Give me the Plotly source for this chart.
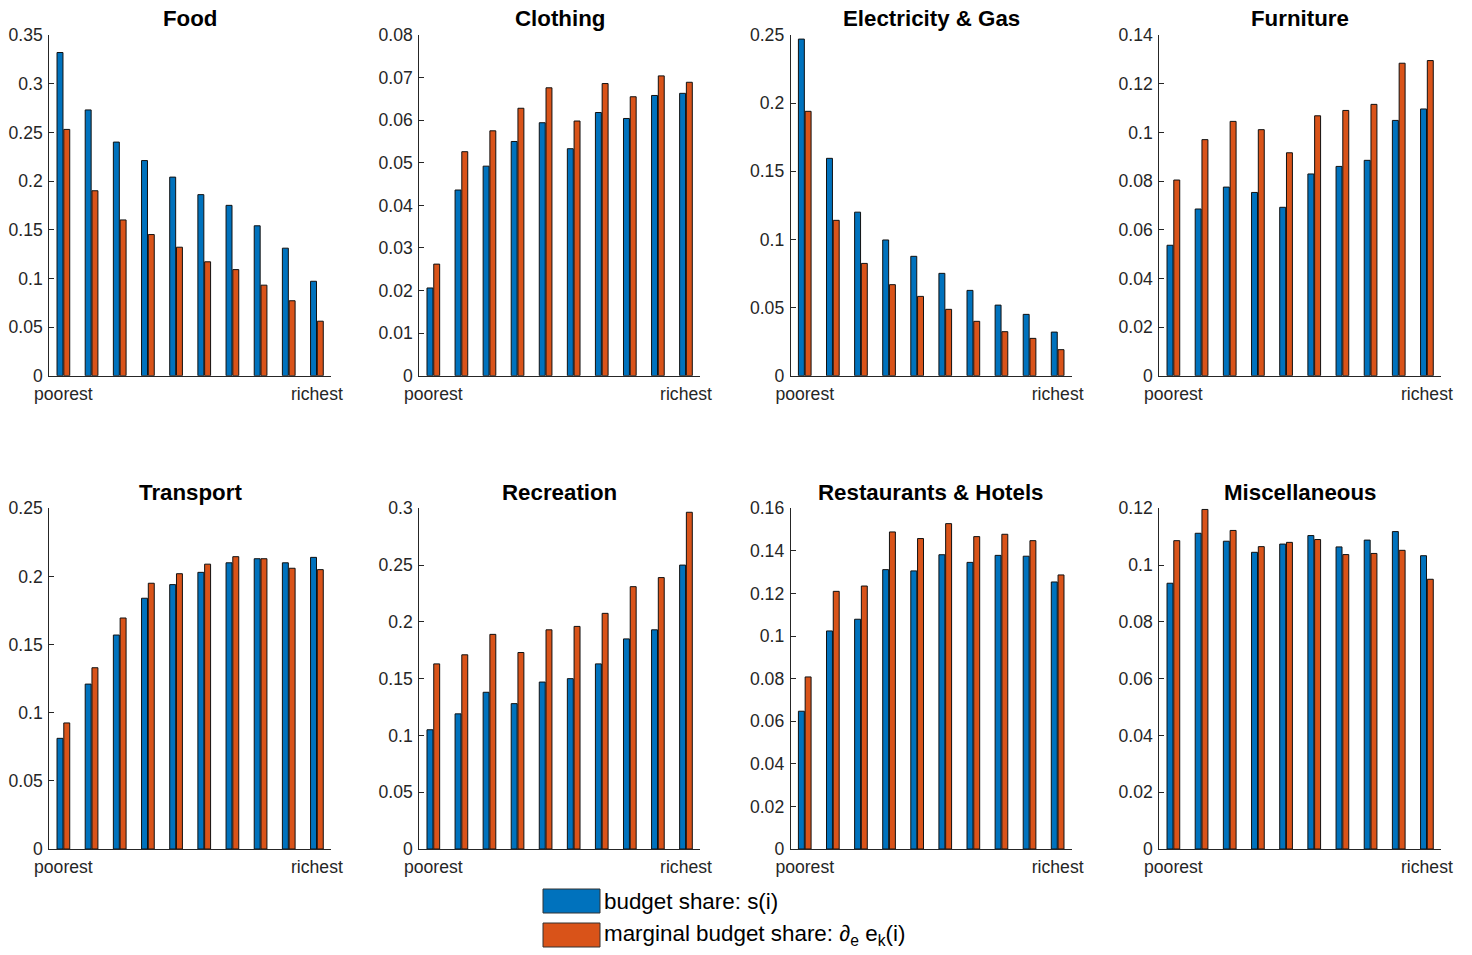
import plotly.graph_objects as go

# ---------------- data ----------------
deciles = [1, 2, 3, 4, 5, 6, 7, 8, 9, 10]
x_tick_vals = [1, 10]
x_tick_labels = ["poorest", "richest"]

panel_titles = ["Food", "Clothing", "Electricity & Gas", "Furniture",
                "Transport", "Recreation", "Restaurants & Hotels", "Miscellaneous"]

food_share = [0.332, 0.273, 0.240, 0.221, 0.204, 0.186, 0.175, 0.154, 0.131, 0.097]
food_marg = [0.253, 0.190, 0.160, 0.145, 0.132, 0.117, 0.109, 0.093, 0.077, 0.056]

clothing_share = [0.0206, 0.0436, 0.0492, 0.0550, 0.0594, 0.0533, 0.0618, 0.0604, 0.0658, 0.0663]
clothing_marg = [0.0262, 0.0526, 0.0575, 0.0628, 0.0676, 0.0598, 0.0686, 0.0655, 0.0704, 0.0689]

elec_share = [0.247, 0.1595, 0.120, 0.0996, 0.0876, 0.0751, 0.0626, 0.0518, 0.0450, 0.0320]
elec_marg = [0.194, 0.114, 0.0824, 0.0668, 0.0582, 0.0487, 0.0399, 0.0323, 0.0274, 0.0191]

furniture_share = [0.0536, 0.0685, 0.0775, 0.0753, 0.0692, 0.0829, 0.0860, 0.0885, 0.1049, 0.1096]
furniture_marg = [0.0804, 0.0970, 0.1045, 0.1011, 0.0916, 0.1068, 0.1090, 0.1115, 0.1284, 0.1295]

transport_share = [0.0812, 0.121, 0.157, 0.184, 0.194, 0.203, 0.210, 0.213, 0.210, 0.214]
transport_marg = [0.0925, 0.133, 0.1695, 0.195, 0.202, 0.209, 0.2145, 0.213, 0.206, 0.205]

recreation_share = [0.105, 0.119, 0.138, 0.128, 0.147, 0.150, 0.163, 0.185, 0.193, 0.250]
recreation_marg = [0.163, 0.171, 0.189, 0.173, 0.193, 0.196, 0.2075, 0.231, 0.239, 0.2965]

restaurants_share = [0.0647, 0.1024, 0.1079, 0.1312, 0.1306, 0.1382, 0.1346, 0.1379, 0.1375, 0.1254]
restaurants_marg = [0.0808, 0.121, 0.1235, 0.1489, 0.1458, 0.1528, 0.1467, 0.1478, 0.1448, 0.1287]

misc_share = [0.0936, 0.1112, 0.1084, 0.1045, 0.1074, 0.1104, 0.1064, 0.1088, 0.1118, 0.1033]
misc_marg = [0.1086, 0.1196, 0.1122, 0.1065, 0.1080, 0.1090, 0.1037, 0.1041, 0.1052, 0.0950]

y_max = [0.35, 0.08, 0.25, 0.14, 0.25, 0.30, 0.16, 0.12]
y_step = [0.05, 0.01, 0.05, 0.02, 0.05, 0.05, 0.02, 0.02]

legend_labels = ["budget share: s(i)",
                 "marginal budget share: \u2202<sub>e</sub> e<sub>k</sub>(i)"]

shares = [food_share, clothing_share, elec_share, furniture_share,
          transport_share, recreation_share, restaurants_share, misc_share]
margs = [food_marg, clothing_marg, elec_marg, furniture_marg,
         transport_marg, recreation_marg, restaurants_marg, misc_marg]

# ---------------- style / layout ----------------
OFF = 8                      # page body margin of the html page
W, H = 1472 - OFF, 955 - OFF
BLUE = "#0072BD"
ORANGE = "#D95319"
AX = "#262626"
FONT = "Liberation Sans, Arial, Helvetica, sans-serif"


def px_x(p):
    return (p - OFF) / W


def px_y(p):
    return 1 - (p - OFF) / H


col_px = [(49.3, 331.0), (419.3, 700.0), (790.7, 1071.7), (1159.3, 1441.0)]
row_px = [(35.0, 375.7), (508.3, 849.0)]

fig = go.Figure()
layout = dict(
    width=W, height=H,
    margin=dict(l=0, r=0, t=0, b=0, autoexpand=False),
    paper_bgcolor="white", plot_bgcolor="white",
    barmode="group", bargap=0.52, bargroupgap=0.12,
    showlegend=False,
    font=dict(family=FONT, size=17.6, color=AX),
)

annotations = []
for i in range(8):
    r, c = divmod(i, 4)
    xs = "x" if i == 0 else f"x{i+1}"
    ys = "y" if i == 0 else f"y{i+1}"
    fig.add_trace(go.Bar(x=deciles, y=shares[i], xaxis=xs, yaxis=ys,
                         marker=dict(color=BLUE, line=dict(color="#111111", width=1)),
                         name=legend_labels[0]))
    fig.add_trace(go.Bar(x=deciles, y=margs[i], xaxis=xs, yaxis=ys,
                         marker=dict(color=ORANGE, line=dict(color="#111111", width=1)),
                         name=legend_labels[1]))
    x0, x1 = col_px[c]
    y0, y1 = row_px[r]
    n = int(round(y_max[i] / y_step[i]))
    tv = [round(k * y_step[i], 4) for k in range(n + 1)]
    tt = [f"{v:g}" for v in tv]
    xkey = "xaxis" if i == 0 else f"xaxis{i+1}"
    ykey = "yaxis" if i == 0 else f"yaxis{i+1}"
    layout[xkey] = dict(
        domain=[px_x(x0), px_x(x1)], anchor=ys, range=[0.5, 10.5], automargin=False,
        tickvals=x_tick_vals, ticktext=x_tick_labels, ticks="", ticklabelstandoff=2,
        showline=True, linecolor=AX, linewidth=1, showgrid=False, zeroline=False,
        tickfont=dict(family=FONT, size=17.6, color=AX), fixedrange=True,
    )
    layout[ykey] = dict(
        domain=[px_y(y1), px_y(y0)], anchor=xs, range=[0, y_max[i]], automargin=False,
        tickvals=tv, ticktext=tt, ticks="inside", ticklen=5, tickcolor=AX,
        ticklabelstandoff=2,
        showline=True, linecolor=AX, linewidth=1, showgrid=False, zeroline=False,
        tickfont=dict(family=FONT, size=17.6, color=AX), fixedrange=True,
    )
    annotations.append(dict(
        text=f"<b>{panel_titles[i]}</b>", xref="paper", yref="paper",
        x=px_x((x0 + x1) / 2), y=px_y(y0 - 16), xanchor="center", yanchor="middle",
        showarrow=False, font=dict(family=FONT, size=22.3, color="black"),
    ))

# legend drawn manually (large swatches like the original)
shapes = []
leg_rows = [(889, 913), (923, 947)]
for (ya, yb), col, lab in zip(leg_rows, [BLUE, ORANGE], legend_labels):
    shapes.append(dict(type="rect", xref="paper", yref="paper",
                       x0=px_x(543), x1=px_x(600), y0=px_y(yb), y1=px_y(ya),
                       fillcolor=col, line=dict(color="#333333", width=1)))
    annotations.append(dict(
        text=lab, xref="paper", yref="paper", x=px_x(602), y=px_y((ya + yb) / 2),
        xanchor="left", yanchor="middle", showarrow=False,
        font=dict(family=FONT, size=22.4, color="black"),
    ))

layout["annotations"] = annotations
layout["shapes"] = shapes
fig.update_layout(**layout)
fig.write_html("out.html")
